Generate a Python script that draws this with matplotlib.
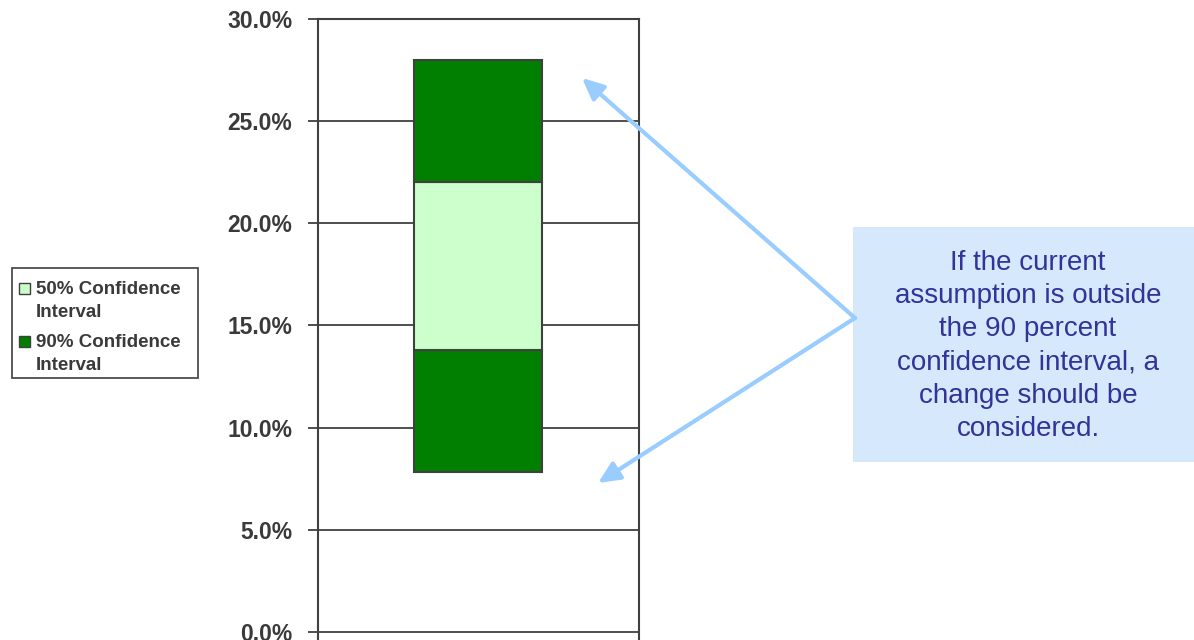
import matplotlib
matplotlib.use("Agg")
import matplotlib.pyplot as plt
from matplotlib.patches import Rectangle, FancyArrowPatch
from matplotlib.ticker import FuncFormatter, MultipleLocator

# Confidence interval bounds (percent)
lower_90 = 7.8
lower_50 = 13.8
upper_50 = 22.0
upper_90 = 28.0

series_labels = ["50% Confidence\nInterval", "90% Confidence\nInterval"]
callout_text = ("If the current\nassumption is outside\nthe 90 percent\n"
                "confidence interval, a\nchange should be\nconsidered.")

dark_green = "#007F00"
light_green = "#CCFFCC"
edge = "#404040"
text_gray = "#3A3A3A"

W, H = 1194, 640
fig = plt.figure(figsize=(W / 100, H / 100), dpi=100)
fig.patch.set_facecolor("white")

ax = fig.add_axes([317.5 / W, 0.0, 321.2 / W, 621 / H])
ax.set_xlim(-0.5, 0.5)
ax.set_ylim(-0.4, 30)

# horizontal gridlines under the bars
ax.yaxis.set_major_locator(MultipleLocator(5))
ax.grid(axis="y", color=edge, linewidth=1.3, zorder=0)
ax.set_axisbelow(True)

bw = 0.4
common = dict(width=bw, edgecolor=edge, linewidth=1.5, zorder=3)
ax.bar(0, lower_50 - lower_90, bottom=lower_90, color=dark_green, **common)
ax.bar(0, upper_50 - lower_50, bottom=lower_50, color=light_green, **common)
ax.bar(0, upper_90 - upper_50, bottom=upper_50, color=dark_green, **common)

ax.set_xticks([])
ax.yaxis.set_major_formatter(FuncFormatter(lambda v, p: f"{v:.1f}%"))
ax.tick_params(axis="y", direction="out", length=7, width=1.3, color=edge,
               pad=11, labelsize=16.5, labelcolor=text_gray)
for lab in ax.get_yticklabels():
    lab.set_fontweight("bold")
    lab.set_fontfamily("Liberation Sans")
for side in ("left", "right", "top"):
    ax.spines[side].set_color(edge)
    ax.spines[side].set_linewidth(1.5)
ax.spines["bottom"].set_visible(False)


def fx(x):
    return x / W


def fy(y):
    return 1 - y / H


# legend drawn in figure pixel space
fig.patches.append(Rectangle((fx(12), fy(378)), (198 - 12) / W, (378 - 268) / H,
                             transform=fig.transFigure, facecolor="white",
                             edgecolor=edge, linewidth=1.2, zorder=5))
for (ytop, color, label) in [(288, light_green, series_labels[0]),
                             (341, dark_green, series_labels[1])]:
    fig.patches.append(Rectangle((fx(19), fy(ytop + 5.5)), 11 / W, 11 / H,
                                 transform=fig.transFigure, facecolor=color,
                                 edgecolor=edge, linewidth=1.0, zorder=6))
    fig.text(fx(36), fy(ytop - 7), label, ha="left", va="top",
             fontsize=13.5, fontweight="bold", color=text_gray,
             family="Liberation Sans", linespacing=1.45, zorder=6)

# callout box
fig.patches.append(Rectangle((fx(853), fy(462)), (W - 853) / W, (462 - 227) / H,
                             transform=fig.transFigure, facecolor="#D6E8FB",
                             edgecolor="none", zorder=1))
fig.text(fx(1028), fy(346), callout_text, ha="center", va="center",
         fontsize=20, color="#333399", family="Liberation Sans",
         linespacing=1.36, zorder=2)

# arrows from the callout to both ends of the interval
arrow_color = "#99CCFF"
start = (fx(855), fy(318))
for tip in [(fx(582), fy(78)), (fx(598), fy(483))]:
    arr = FancyArrowPatch(start, tip, transform=fig.transFigure,
                          arrowstyle="-|>,head_length=13,head_width=6",
                          color=arrow_color, linewidth=3,
                          shrinkA=0, shrinkB=0, zorder=10)
    fig.patches.append(arr)

fig.savefig("out.png", dpi=100)
